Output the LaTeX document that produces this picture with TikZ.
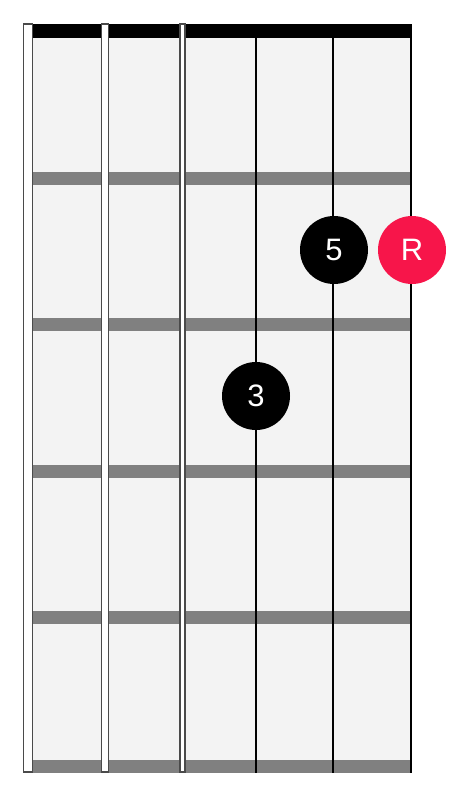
\documentclass[tikz,border=0pt]{standalone}
\usepackage{fontspec}
\setmainfont{Liberation Sans}
\usetikzlibrary{positioning}
\definecolor{boardgray}{HTML}{F3F3F3}
\definecolor{fretgray}{HTML}{808080}
\definecolor{wound}{HTML}{4A4A4A}
\definecolor{rootred}{HTML}{F7154A}

\begin{document}
\begin{tikzpicture}[x=1pt, y=-1pt,
  note/.style={circle, fill=black, text=white, minimum size=68pt, inner sep=0pt, font=\fontsize{31}{31}\selectfont},
  root/.style={note, fill=rootred}]
\useasboundingbox (0,0) rectangle (464,790);
% fretboard
\fill[boardgray] (33,24) rectangle (411,773);
\fill[black] (33,24) rectangle (411,38);
\foreach \y in {172,318,465,611,760}
  \fill[fretgray] (33,\y) rectangle (411,\y+13);
% wound strings
\foreach \xl/\xr in {23.5/32.5, 101.5/108.5, 180/185}
  \draw[wound, fill=white, line width=1.6pt] (\xl,24) rectangle (\xr,772);
% plain strings
\foreach \x in {256,333,411}
  \draw[black, line width=2pt] (\x,24) -- (\x,773);
% notes
\node [root] (r) at (412,250) {R};
\node [note] (n5) [left=78pt of r.center, anchor=center] {5};
\node [note] (n3) at (256,396) {3};
\end{tikzpicture}
\end{document}
